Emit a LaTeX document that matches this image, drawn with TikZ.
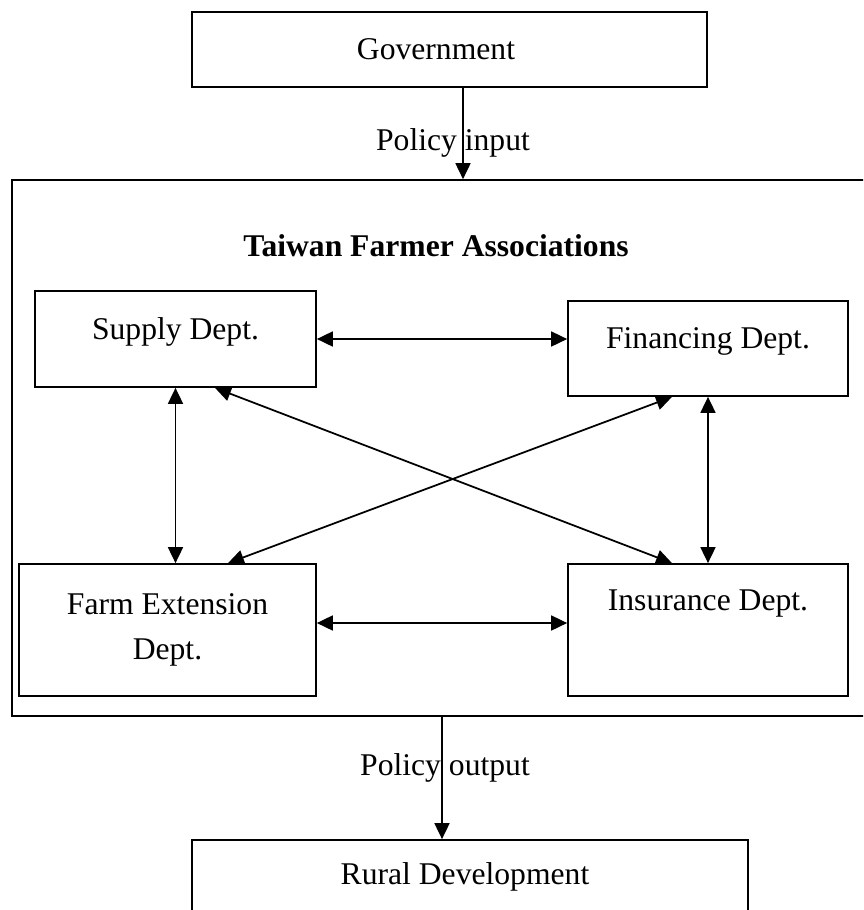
\documentclass[tikz,border=0pt]{standalone}
\usepackage{fontspec}
\setmainfont{Liberation Serif}
\usetikzlibrary{arrows.meta}
\begin{document}
\begin{tikzpicture}[line join=miter, >={Triangle[length=0.32cm,width=0.3cm]}, x=0.02cm, y=-0.02cm, line width=1pt]
\tikzset{every node/.style={font=\fontsize{18}{26}\selectfont}}
\tikzset{box/.style={draw, rectangle, inner sep=0pt, align=center}}
\tikzset{lifted/.style={text height=0.43cm, text depth=0.42cm}}
\useasboundingbox (0,0) rectangle (863,910);
\clip (0,0) rectangle (863,910);
% top and bottom
\node[box, minimum width=10.3cm, minimum height=1.5cm] (gov) at (449.5,49.5) {Government\hspace*{0.54cm}};
\node[box, minimum width=11.12cm, minimum height=1.48cm] (rural) at (470,877) {Rural Development\hspace*{0.2cm}};
% association frame
\node[box, minimum width=17.16cm, minimum height=10.72cm] (tfa) at (441,448) {};
\node (title) at (436,246) {\textbf{Taiwan Farmer Associations}};
% departments
\node[box, lifted, minimum width=5.62cm, minimum height=1.92cm] (supply) at (175.5,339) {Supply Dept.};
\node[box, lifted, minimum width=5.6cm, minimum height=1.9cm] (fin) at (708,348.5) {Financing Dept.};
\node[box, minimum width=5.94cm, minimum height=2.64cm] (farm) at (167.5,630) {Farm Extension\\Dept.};
\node[box, minimum width=5.6cm, minimum height=2.64cm] (ins) at (708,630) {Insurance Dept.\\\strut};
% policy flow
\coordinate (in) at (463,0);
\coordinate (out) at (442,0);
\draw[->] (gov.south -| in) -- (tfa.north -| in) node[pos=0.6, xshift=-0.2cm] {Policy input};
\draw[->] (tfa.south -| out) -- (rural.north -| out) node[pos=0.42, xshift=0.06cm] {Policy output};
% links between departments
\draw[<->] (supply.east) -- (supply.east -| fin.west);
\draw[<->] ([yshift=0.14cm]farm.east) -- ([yshift=0.14cm]farm.east -| ins.west);
\draw[<->] (supply.south) -- (supply.south |- farm.north);
\draw[<->] (fin.south) -- (ins.north);
\draw[<->] ([xshift=0.79cm]supply.south) -- ([xshift=-0.72cm]ins.north);
\draw[<->] ([xshift=-0.72cm]fin.south) -- ([xshift=1.21cm]farm.north);
\end{tikzpicture}
\end{document}
